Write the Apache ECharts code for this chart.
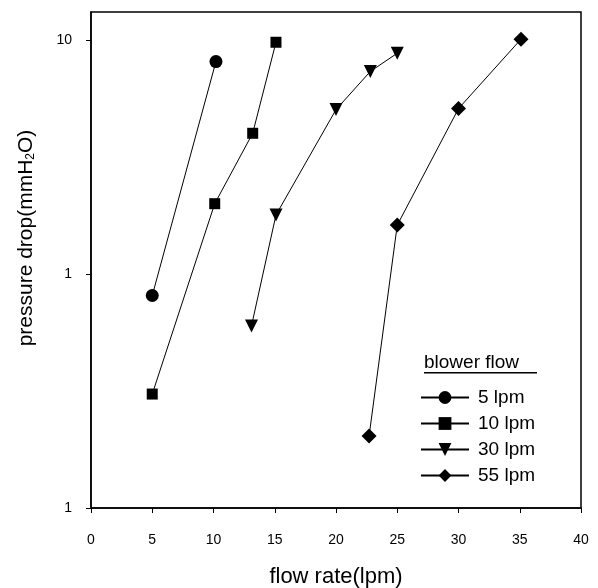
<!DOCTYPE html>
<html><head><meta charset="utf-8">
<script src="https://cdn.jsdelivr.net/npm/echarts@6/dist/echarts.min.js"></script>
<style>html,body{margin:0;padding:0;background:#fff}#c{width:598px;height:588px}</style>
</head><body><div id="c"></div>
<script>
var seriesNames = ['5 lpm', '10 lpm', '30 lpm', '55 lpm'];
var symbols = ['circle', 'rect', 'triangle', 'diamond'];
var flow5 = [[5, 0.81], [10.2, 8.1]];
var flow10 = [[5, 0.307], [10.1, 2.0], [13.2, 4.0], [15.1, 9.8]];
var flow30 = [[13.1, 0.6], [15.1, 1.79], [20.0, 5.05], [22.8, 7.35], [25.0, 8.8]];
var flow55 = [[22.7, 0.203], [25.0, 1.62], [30.0, 5.1], [35.1, 10.1]];
var xTicks = [0, 5, 10, 15, 20, 25, 30, 35, 40];
var yTickValues = [0.1, 1, 10];
var yTickLabels = ['1', '1', '10'];
var allData = [flow5, flow10, flow30, flow55];

var chart = echarts.init(document.getElementById('c'));
var font = 'Liberation Sans, Arial, sans-serif';
var series = allData.map(function (d, i) {
  var sym = symbols[i];
  var size = 13;
  if (sym === 'rect') size = 11;
  if (sym === 'diamond') size = 15;
  return {
    name: seriesNames[i], type: 'line', data: d,
    symbol: sym, symbolSize: size, symbolRotate: sym === 'triangle' ? 180 : 0,
    itemStyle: {color: '#000'}, lineStyle: {color: '#000', width: 1},
    animation: false
  };
});
function yLabel(v) {
  for (var i = 0; i < yTickValues.length; i++) {
    if (Math.abs(Math.log10(v) - Math.log10(yTickValues[i])) < 1e-6) return yTickLabels[i];
  }
  return '';
}
chart.setOption({
  animation: false,
  grid: {left: 91, right: 17, top: 12, bottom: 80, show: true, borderColor: '#000', borderWidth: 1.5,
    containLabel: false, outerBoundsMode: 'none'},
  xAxis: {
    type: 'value', min: xTicks[0], max: xTicks[xTicks.length - 1], interval: 5,
    name: 'flow rate(lpm)', nameLocation: 'middle', nameGap: 58,
    nameTextStyle: {fontFamily: font, fontSize: 22, color: '#000'},
    axisLine: {lineStyle: {color: '#000', width: 1.5}},
    axisTick: {inside: false, length: 5, lineStyle: {color: '#000'}},
    axisLabel: {fontFamily: font, fontSize: 14, color: '#000', margin: 25},
    splitLine: {show: false}
  },
  yAxis: {
    type: 'log', min: 0.1, max: 13.2, logBase: 10,
    axisLine: {lineStyle: {color: '#000', width: 1.5}},
    axisTick: {inside: false, length: 5, lineStyle: {color: '#000'}, customValues: yTickValues},
    axisLabel: {fontFamily: font, fontSize: 14, color: '#000', margin: 19,
      customValues: yTickValues, formatter: yLabel},
    splitLine: {show: false}
  },
  legend: {
    data: seriesNames, orient: 'vertical', left: 415, top: 383,
    itemWidth: 48, itemHeight: 16, itemGap: 7,
    textStyle: {fontFamily: font, fontSize: 19, color: '#000', padding: [0, 0, 0, 4]},
    inactiveColor: '#000'
  },
  graphic: [
    {type: 'text', x: 26, y: 238, rotation: Math.PI / 2,
      style: {text: 'pressure drop(mmH{s|2}O)', font: '21px ' + font, fill: '#000',
        align: 'center', verticalAlign: 'middle',
        rich: {s: {fontSize: 12, fontFamily: font, fill: '#000', padding: [9, 0, 0, 0]}}}},
    {type: 'text', left: 424, top: 353, style: {text: 'blower flow', font: '19px ' + font, fill: '#000'}},
    {type: 'rect', left: 424, top: 372, shape: {width: 113, height: 1.5}, style: {fill: '#000'}}
  ],
  series: series
});
</script></body></html>
